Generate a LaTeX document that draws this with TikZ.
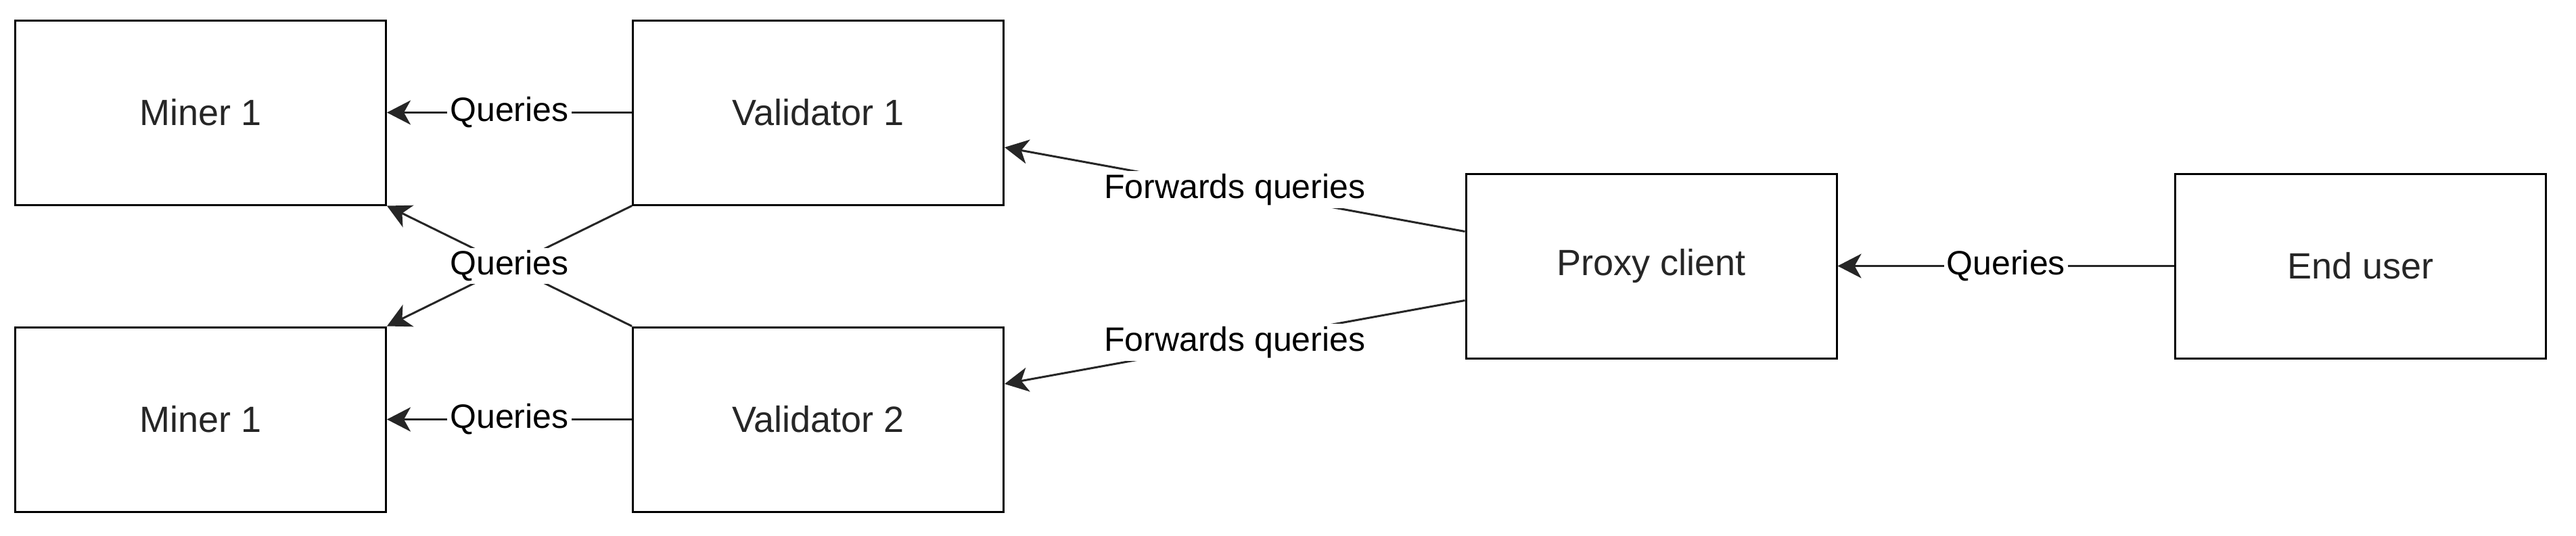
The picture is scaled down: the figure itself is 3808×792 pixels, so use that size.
\documentclass[tikz,border=0pt]{standalone}
\usepackage{fontspec}
\setmainfont{Liberation Sans}
\usetikzlibrary{arrows.meta,calc}
\begin{document}
\begin{tikzpicture}[x=0.25pt,y=-0.25pt,
  box/.style={draw=black,line width=0.75pt,minimum width=137pt,minimum height=68.25pt,inner sep=0pt,font=\fontsize{13.5}{16}\selectfont,text=black!85},
  conn/.style={line width=0.75pt,draw=black!85,-{Stealth[length=8.75pt,width=9pt,inset=2.5pt]}},
  plain/.style={line width=0.75pt,draw=black!80},
  lbl/.style={fill=white,inner sep=1pt,font=\fontsize{12.5}{15}\selectfont,text=black}]
\useasboundingbox[fill=white] (0,0) rectangle (3808,792);
\node[box] (m1) at (296.5,166.5) {Miner 1};
\node[box] (v1) at (1209.5,166.5) {Validator 1};
\node[box] (m2) at (296.5,620.5) {Miner 1};
\node[box] (v2) at (1209.5,620.5) {Validator 2};
\node[box] (p) at (2441,393.5) {Proxy client};
\node[box] (u) at (3489.5,393.5) {End user};
% horizontal queries
\draw[conn] (v1.west) -- node[lbl] {Queries} (m1.east);
\draw[conn] (v2.west) -- node[lbl] {Queries} (m2.east);
\draw[conn] (u.west) -- node[lbl] {Queries} (p.east);
% crossing queries
\draw[conn] (v2.north west) -- (m1.south east);
\draw[conn] (v1.south west) -- node[lbl] {Queries} (m2.north east);
% forwards
\draw[conn] ($(p.west)+(0,-51)$) -- node[lbl] {Forwards queries} ($(v1.east)+(0,51.5)$);
\draw[conn] ($(p.west)+(0,51)$) -- node[lbl] {Forwards queries} ($(v2.east)+(0,-52.5)$);
\end{tikzpicture}
\end{document}
